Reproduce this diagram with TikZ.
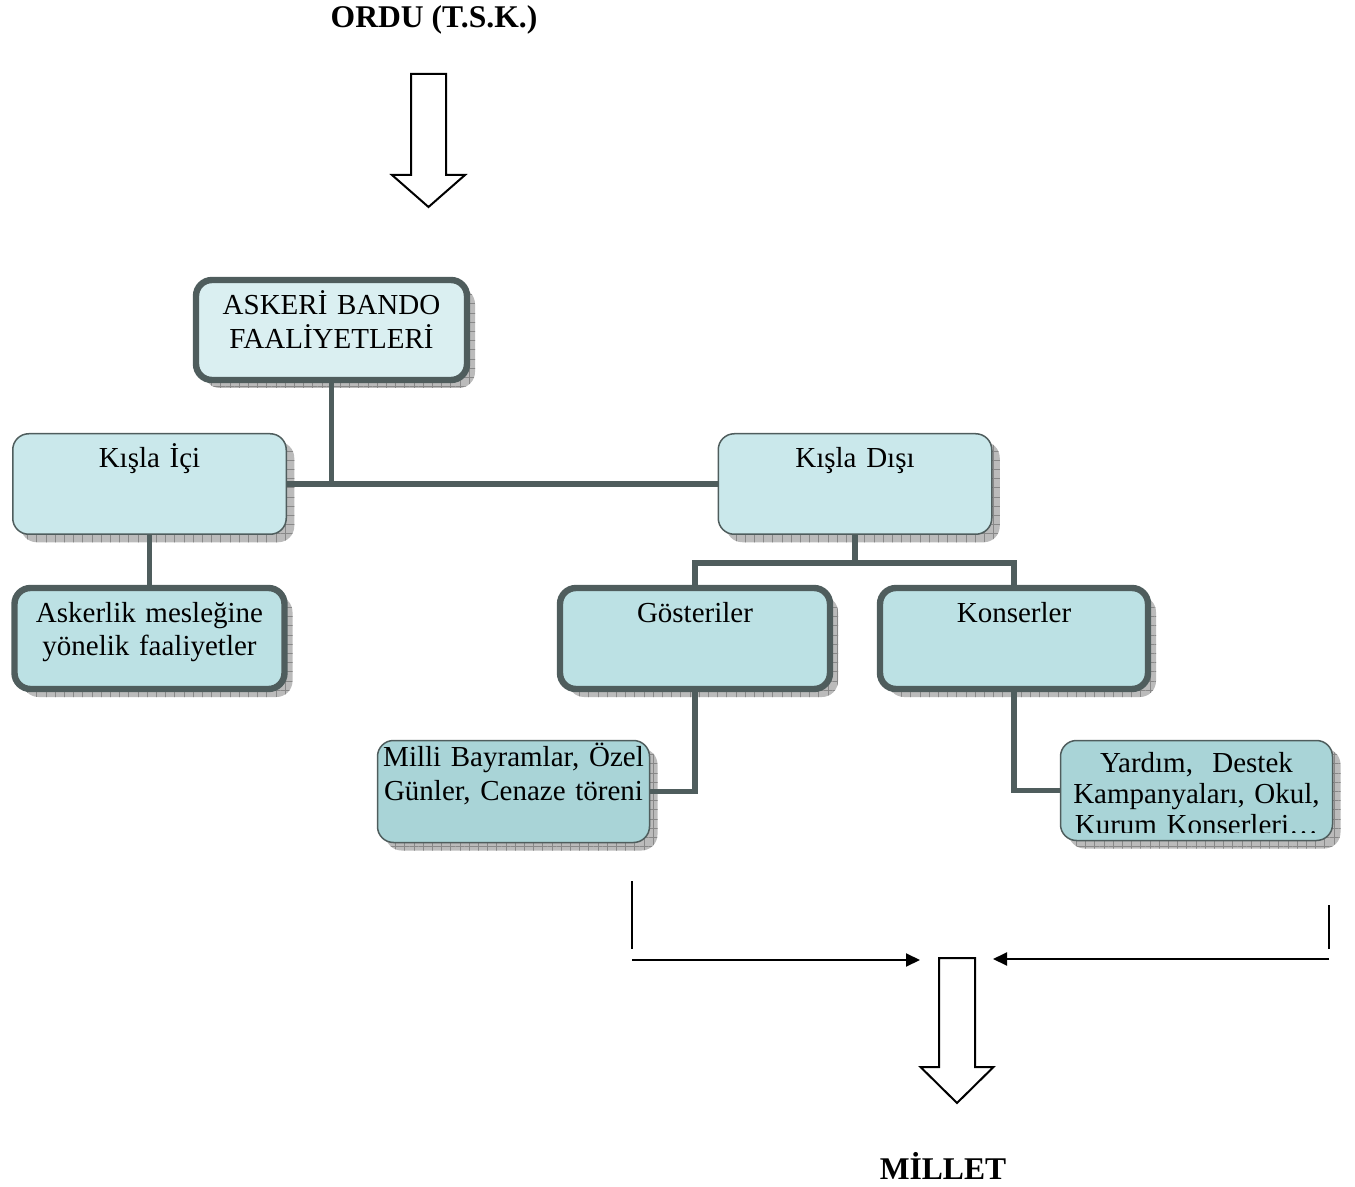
\documentclass[tikz,border=0pt]{standalone}
\usepackage{fontspec}
\setmainfont{Liberation Serif}
\usetikzlibrary{shadows,patterns.meta,arrows.meta}

\definecolor{edge}{HTML}{4F5D5D}
\definecolor{fillA}{HTML}{DAEFF1}
\definecolor{fillB}{HTML}{CAE8EB}
\definecolor{fillC}{HTML}{BCE1E4}
\definecolor{fillD}{HTML}{A9D4D7}
\definecolor{shadowgray}{HTML}{BBBBBB}
\definecolor{gridgray}{HTML}{888888}

\tikzset{
  gridshadow/.style={
    general shadow={fill=shadowgray, shadow xshift=4pt, shadow yshift=-4pt},
    general shadow={pattern={Hatch[distance=4.6pt,angle=0,line width=0.4pt]},
                    pattern color=gridgray, shadow xshift=4pt, shadow yshift=-4pt}},
  box/.style={rounded corners=8pt, draw=edge, align=center, inner sep=0pt,
    gridshadow, font=\fontsize{14.5}{16.8}\selectfont},
  thinbox/.style={box, line width=0.75pt},
  thickbox/.style={box, line width=3.2pt},
  link/.style={draw=edge, line width=2.8pt},
  blockarrow/.style={draw=black, fill=white, line width=1pt, line join=miter},
  feed/.style={draw=black, line width=1pt},
  feedarrow/.style={feed, -{Triangle[length=7pt,width=6.5pt]}},
  heading/.style={font=\fontsize{15.8}{18}\selectfont\bfseries}
}

\begin{document}
\begin{tikzpicture}[x=0.5pt,y=-0.5pt]
\useasboundingbox (0,0) rectangle (1355,1187);

% titles
\node[heading] (ordu) at (434,20) {ORDU (T.S.K.)};
\node[heading] (millet) at (943,1166) {MİLLET};

% block arrow below the army
\coordinate (orduarrow) at (428.5,74);
\draw[blockarrow] (orduarrow) ++(-17.5,0) -- ++(35,0) -- ++(0,101) -- ++(19,0)
  -- ++(-36.5,32) -- ++(-36.5,-32) -- ++(19,0) -- cycle;

% boxes
\node[thickbox, fill=fillA, minimum width=135.5pt, text width=134pt,
      text height=17.5pt, text depth=32.5pt] (bando) at (331.5,330)
      {ASKERİ BANDO\\FAALİYETLERİ};

\node[thinbox, fill=fillB, minimum width=136.75pt, text width=134pt,
      text height=17pt, text depth=33.25pt] (kici) at (149.5,484) {Kışla İçi};
\node[thinbox, fill=fillB, minimum width=136.75pt, text width=134pt,
      text height=17pt, text depth=33.25pt] (kdisi) at (855,484) {Kışla Dışı};

\node[thickbox, fill=fillC, minimum width=135pt, text width=134pt,
      text height=17pt, text depth=33.5pt] (asker) at (149.5,638.5)
      {Askerlik mesleğine\\yönelik faaliyetler};
\node[thickbox, fill=fillC, minimum width=135pt, text width=134pt,
      text height=17pt, text depth=33.5pt] (gost) at (695,638.5) {Gösteriler};
\node[thickbox, fill=fillC, minimum width=134pt, text width=133pt,
      text height=17pt, text depth=33.5pt] (kons) at (1014,638.5) {Konserler};

\node[thinbox, fill=fillD, minimum width=136pt, text width=136pt,
      text height=13pt, text depth=38pt] (milli) at (513.5,791.5)
      {Milli Bayramlar, Özel\\Günler, Cenaze töreni};

% this box's text frame is shorter than its text: the last line is cut off
\node[thinbox, fill=fillD, minimum width=136pt, minimum height=50pt,
      path picture={
        \clip (path picture bounding box.north west) rectangle
              ([yshift=4.2pt]path picture bounding box.south east);
        \node[anchor=base, align=center, text width=136pt, inner sep=0pt,
              font=\fontsize{14.5}{15.5}\selectfont]
          at ([yshift=-16pt]path picture bounding box.north)
          {Yardım,~ Destek\\Kampanyaları, Okul,\\Kurum Konserleri…};
      }] (yardim) at (1196.5,790.5) {};

% tree connectors
\draw[link] (bando.south) -- (bando.south |- kici.east);
\draw[link] (kici.east) -- (kdisi.west);
\draw[link] (kici.south) -- (asker.north);
\draw[link] (kdisi.south) -- ++(0,28) -| (gost.north);
\draw[link] (kdisi.south) ++(0,28) -| (kons.north);
\draw[link] (gost.south) |- (milli.east);
\draw[link] (kons.south) |- (yardim.west);

% feeds towards the nation
\coordinate (ltop) at (632,881);
\coordinate (lbot) at (632,949);
\coordinate (lstart) at (632,960);
\coordinate (ltip) at (920,960);
\coordinate (rtop) at (1329,905);
\coordinate (rbot) at (1329,949);
\coordinate (rstart) at (1329,959);
\coordinate (rtip) at (993,959);
\draw[feed] (ltop) -- (lbot);
\draw[feedarrow] (lstart) -- (ltip);
\draw[feed] (rtop) -- (rbot);
\draw[feedarrow] (rstart) -- (rtip);

% block arrow into the nation
\coordinate (milletarrow) at (957,958);
\draw[blockarrow] (milletarrow) ++(-18,0) -- ++(36,0) -- ++(0,109) -- ++(18.5,0)
  -- ++(-36.5,36) -- ++(-36.5,-36) -- ++(18.5,0) -- cycle;
\end{tikzpicture}
\end{document}
